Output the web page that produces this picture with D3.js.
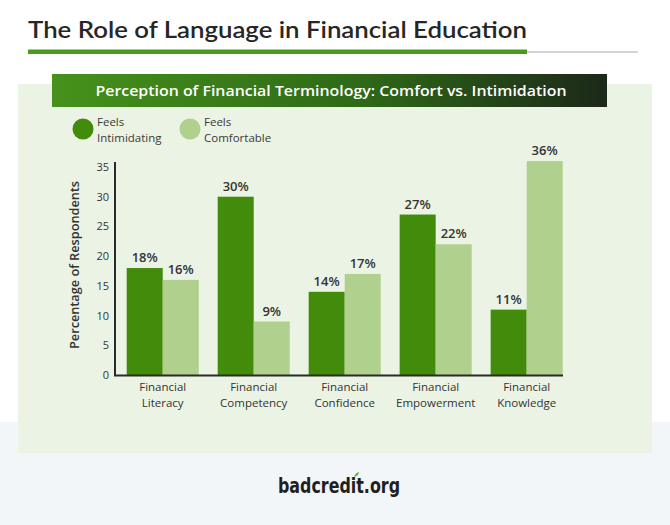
<!DOCTYPE html>
<html>
<head>
<meta charset="utf-8">
<script src="https://cdn.jsdelivr.net/npm/d3@7"></script>
<style>
  html, body { margin: 0; padding: 0; background: #fff; }
  svg { display: block; font-family: "Open Sans", "Noto Sans", sans-serif; }
</style>
</head>
<body>
<svg id="chart"></svg>
<script>
// chart values
const categories = [
    ["Financial", "Literacy"],
    ["Financial", "Competency"],
    ["Financial", "Confidence"],
    ["Financial", "Empowerment"],
    ["Financial", "Knowledge"]
];
const series = ["Feels Intimidating", "Feels Comfortable"];
const intimidating = [18, 30, 14, 27, 11];
const comfortable = [16, 9, 17, 22, 36];
const yTicks = [0, 5, 10, 15, 20, 25, 30, 35];

const W = 670, H = 525;
const dark = "#428b0b", light = "#b0d18e";

const svg = d3.select("#chart")
    .attr("width", W)
    .attr("height", H);

// background bands
svg.append("rect").attr("x", 0).attr("y", 422).attr("width", W).attr("height", H - 422)
    .attr("fill", "#f3f6f9");
svg.append("rect").attr("x", 18).attr("y", 84).attr("width", 634).attr("height", 369)
    .attr("fill", "#ebf3e4");

// page title + rule
svg.append("text")
    .attr("x", 28).attr("y", 38)
    .attr("font-family", "Lato, sans-serif")
    .attr("font-size", 22.5)
    .attr("font-weight", 600)
    .attr("fill", "#262626")
    .attr("textLength", 499)
    .attr("lengthAdjust", "spacingAndGlyphs")
    .text("The Role of Language in Financial Education");
svg.append("line").attr("x1", 527).attr("x2", 638).attr("y1", 52).attr("y2", 52)
    .attr("stroke", "#a8a8a8").attr("stroke-width", 1.2);
svg.append("rect").attr("x", 28).attr("y", 49.5).attr("width", 499).attr("height", 4.5)
    .attr("fill", "#4a9a1c");

// banner
const grad = svg.append("defs").append("linearGradient").attr("id", "banner");
grad.append("stop").attr("offset", "0%").attr("stop-color", "#46921b");
grad.append("stop").attr("offset", "55%").attr("stop-color", "#2f6a17");
grad.append("stop").attr("offset", "100%").attr("stop-color", "#1c2819");
svg.append("rect").attr("x", 52).attr("y", 74).attr("width", 555).attr("height", 33)
    .attr("fill", "url(#banner)");
svg.append("text")
    .attr("x", 331).attr("y", 96)
    .attr("text-anchor", "middle")
    .attr("font-size", 15)
    .attr("font-weight", 600)
    .attr("fill", "#fff")
    .attr("textLength", 471)
    .attr("lengthAdjust", "spacingAndGlyphs")
    .text("Perception of Financial Terminology: Comfort vs. Intimidation");

// legend (two-line labels)
const legend = svg.append("g").selectAll("g")
    .data(series)
    .join("g")
        .attr("transform", (d, i) => `translate(${83 + i * 107}, 129)`);
legend.append("circle").attr("r", 10.5).attr("fill", (d, i) => i ? light : dark);
legend.selectAll("text")
    .data(d => ["Feels", d.replace("Feels ", "")])
    .join("text")
        .attr("x", 14)
        .attr("y", (d, i) => i ? 12.5 : -3.5)
        .attr("font-size", 11.5)
        .attr("font-weight", 500)
        .attr("fill", "#3a3a3a")
        .text(d => d);

// scales
const y = d3.scaleLinear().domain([0, 35]).range([375, 167]);
const x = d3.scaleBand()
    .domain(d3.range(categories.length))
    .range([126.7, 562.7])
    .paddingInner(0.208)
    .paddingOuter(0);
const xs = d3.scaleBand().domain([0, 1]).range([0, x.bandwidth()]);

const rows = categories.map((c, i) => ({ i, vals: [intimidating[i], comfortable[i]] }));

const groups = svg.append("g").selectAll("g")
    .data(rows)
    .join("g")
        .attr("transform", d => `translate(${x(d.i)},0)`);

groups.selectAll("rect")
    .data(d => d.vals)
    .join("rect")
        .attr("x", (d, j) => xs(j))
        .attr("y", d => y(d))
        .attr("width", xs.bandwidth())
        .attr("height", d => y(0) - y(d))
        .attr("fill", (d, j) => j ? light : dark);

groups.selectAll("text.val")
    .data(d => d.vals)
    .join("text")
        .classed("val", true)
        .attr("x", (d, j) => xs(j) + xs.bandwidth() / 2)
        .attr("y", d => y(d) - 6)
        .attr("text-anchor", "middle")
        .attr("font-size", 13)
        .attr("font-weight", 600)
        .attr("fill", "#333")
        .text(d => d + "%");

// category labels
groups.append("text")
    .attr("text-anchor", "middle")
    .attr("font-size", 11.5)
    .attr("font-weight", 500)
    .attr("fill", "#333")
    .selectAll("tspan")
    .data(d => categories[d.i])
    .join("tspan")
        .attr("x", x.bandwidth() / 2)
        .attr("y", (d, i) => 391 + i * 15.5)
        .text(d => d);

// y axis
const yAxis = svg.append("g")
    .attr("transform", "translate(115,0)")
    .call(d3.axisLeft(y).tickValues(yTicks).tickSize(0).tickPadding(6));
yAxis.select(".domain").remove();
yAxis.selectAll("text")
    .attr("font-family", "'Open Sans', sans-serif")
    .attr("font-size", 11)
    .attr("fill", "#333");

svg.append("line").attr("x1", 115).attr("x2", 115).attr("y1", 162).attr("y2", 376)
    .attr("stroke", "#2a2a2a").attr("stroke-width", 2);
svg.append("line").attr("x1", 114).attr("x2", 563).attr("y1", 375.5).attr("y2", 375.5)
    .attr("stroke", "#2a2a2a").attr("stroke-width", 2);

svg.append("text")
    .attr("transform", "translate(79,265) rotate(-90)")
    .attr("text-anchor", "middle")
    .attr("font-size", 12)
    .attr("font-weight", 600)
    .attr("fill", "#333")
    .attr("textLength", 168)
    .attr("lengthAdjust", "spacingAndGlyphs")
    .text("Percentage of Respondents");

// footer logo
svg.append("text")
    .attr("x", 339).attr("y", 493)
    .attr("text-anchor", "middle")
    .attr("font-family", "'Liberation Sans Narrow', 'DejaVu Sans Condensed', sans-serif")
    .attr("font-size", 22)
    .attr("font-weight", 700)
    .attr("fill", "#1f1f1f")
    .attr("textLength", 122)
    .attr("lengthAdjust", "spacingAndGlyphs")
    .text("badcredit.org");
svg.append("path")
    .attr("d", "M354,477 q1,-4 5,-5 q0,4 -5,5 z")
    .attr("fill", "#6cb33f");
</script>
</body>
</html>
